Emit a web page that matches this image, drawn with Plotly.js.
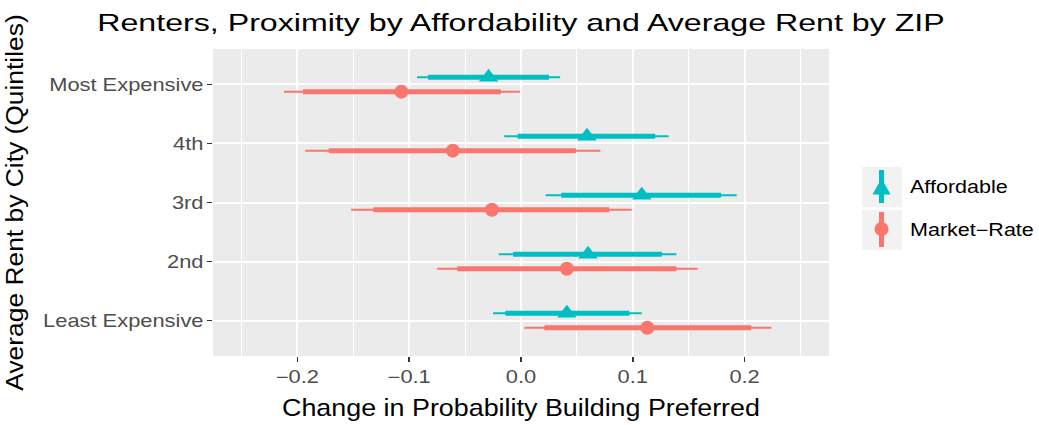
<!DOCTYPE html>
<html>
<head>
<meta charset="utf-8">
<script src="https://cdn.plot.ly/plotly-3.0.1.min.js"></script>
<style>html,body{margin:0;padding:0;background:#fff;}#chart{width:1039px;height:425px;}</style>
</head>
<body>
<div id="chart"></div>
<script>
// ---- data ----
var categories = ['Least Expensive', '2nd', '3rd', '4th', 'Most Expensive'];
var seriesNames = ['Affordable', 'Market\u2212Rate'];

var affEst  = [0.041, 0.060, 0.108, 0.059, -0.029];
var affLo95 = [-0.025, -0.020, 0.022, -0.015, -0.093];
var affHi95 = [0.108, 0.139, 0.193, 0.132, 0.035];
var affLo50 = [-0.014, -0.007, 0.036, -0.003, -0.083];
var affHi50 = [0.097, 0.126, 0.179, 0.120, 0.025];

var mktEst  = [0.113, 0.041, -0.026, -0.061, -0.107];
var mktLo95 = [0.003, -0.075, -0.152, -0.193, -0.212];
var mktHi95 = [0.224, 0.158, 0.099, 0.071, -0.001];
var mktLo50 = [0.021, -0.057, -0.132, -0.172, -0.195];
var mktHi50 = [0.206, 0.139, 0.079, 0.049, -0.018];

var xTickVals = [-0.2, -0.1, 0.0, 0.1, 0.2];

// ---- styling ----
var colAff = '#00BFC4', colMkt = '#F8766D';
var dodge = 0.122;
var FONT = 'Liberation Sans, Arial, Helvetica, sans-serif';

function segs(lo, hi, off) {
  var x = [], y = [];
  for (var i = 0; i < lo.length; i++) {
    x.push(lo[i], hi[i], null);
    y.push(i + 1 + off, i + 1 + off, null);
  }
  return {x: x, y: y};
}
function pos(n, off) { var y = []; for (var i = 0; i < n; i++) y.push(i + 1 + off); return y; }

var a95 = segs(affLo95, affHi95, dodge), a50 = segs(affLo50, affHi50, dodge);
var m95 = segs(mktLo95, mktHi95, -dodge), m50 = segs(mktLo50, mktHi50, -dodge);

var traces = [
  {type:'scatter', mode:'lines', x:m95.x, y:m95.y, line:{color:colMkt, width:2}, showlegend:false, hoverinfo:'skip'},
  {type:'scatter', mode:'lines', x:m50.x, y:m50.y, line:{color:colMkt, width:5}, showlegend:false, hoverinfo:'skip'},
  {type:'scatter', mode:'markers', name:seriesNames[1], x:mktEst, y:pos(5, -dodge), marker:{color:colMkt, size:14, symbol:'circle'}, showlegend:false},
  {type:'scatter', mode:'lines', x:a95.x, y:a95.y, line:{color:colAff, width:2}, showlegend:false, hoverinfo:'skip'},
  {type:'scatter', mode:'lines', x:a50.x, y:a50.y, line:{color:colAff, width:5}, showlegend:false, hoverinfo:'skip'},
  {type:'scatter', mode:'markers', name:seriesNames[0], x:affEst, y:pos(5, dodge), marker:{color:colAff, size:17, symbol:'triangle-up'}, showlegend:false}
];

// plot-area pixel helpers for legend keys
var L = 213, R = 829, T = 49, B = 356;
function px(x) { return (x - L) / (R - L); }
function py(y) { return (B - y) / (B - T); }

var shapes = [
  {type:'line', xref:'x', yref:'paper', x0:0, x1:0, y0:0, y1:1, layer:'between', line:{color:'#7F7F7F', width:2, dash:'6px,5px'}},
  {type:'rect', xref:'paper', yref:'paper', x0:px(862), x1:px(902), y0:py(207), y1:py(167), fillcolor:'#F2F2F2', line:{width:0}},
  {type:'rect', xref:'paper', yref:'paper', x0:px(862), x1:px(902), y0:py(250), y1:py(210), fillcolor:'#F2F2F2', line:{width:0}},
  {type:'line', xref:'paper', yref:'paper', x0:px(881.5), x1:px(881.5), y0:py(203), y1:py(170), line:{color:colAff, width:5}},
  {type:'path', xref:'paper', yref:'paper', path:'M '+px(881.5)+' '+py(178.5)+' L '+px(890.5)+' '+py(194.5)+' L '+px(872.5)+' '+py(194.5)+' Z', fillcolor:colAff, line:{width:0}},
  {type:'line', xref:'paper', yref:'paper', x0:px(881.5), x1:px(881.5), y0:py(247), y1:py(212), line:{color:colMkt, width:5}},
  {type:'circle', xref:'paper', yref:'paper', x0:px(874.5), x1:px(888.5), y0:py(236), y1:py(222), fillcolor:colMkt, line:{width:0}}
];

var annotations = [
  {xref:'paper', yref:'paper', x:px(908), y:py(187), xanchor:'left', yanchor:'middle', text:seriesNames[0], showarrow:false, font:{family:FONT, size:17.5, color:'#000'}},
  {xref:'paper', yref:'paper', x:px(908), y:py(230), xanchor:'left', yanchor:'middle', text:seriesNames[1], showarrow:false, font:{family:FONT, size:17.5, color:'#000'}}
];

var layout = {
  width:1039, height:425,
  margin:{l:L, r:1039 - R, t:T, b:425 - B, pad:0},
  paper_bgcolor:'#FFFFFF', plot_bgcolor:'#EBEBEB',
  font:{family:FONT, color:'#000'},
  title:{text:'Renters, Proximity by Affordability and Average Rent by ZIP', x:0.5, xref:'paper', xanchor:'center', y:1 - 23/425, yref:'container', yanchor:'middle', font:{family:FONT, size:24, color:'#000'}},
  xaxis:{
    range:[-0.2755, 0.2755], tickvals:xTickVals, tickformat:'.1f',
    showgrid:true, gridcolor:'#FFFFFF', gridwidth:2,
    minor:{dtick:0.05, tick0:0.05, showgrid:true, gridcolor:'#FFFFFF', gridwidth:1, ticks:''},
    zeroline:false, showline:false,
    ticks:'outside', ticklen:5, tickwidth:1.5, tickcolor:'#333333',
    tickfont:{family:FONT, size:17.5, color:'#4D4D4D'},
    title:{text:'Change in Probability Building Preferred', standoff:13, font:{family:FONT, size:24, color:'#000'}}
  },
  yaxis:{
    range:[0.4, 5.6], tickvals:[1,2,3,4,5], ticktext:categories,
    showgrid:true, gridcolor:'#FFFFFF', gridwidth:2,
    zeroline:false, showline:false,
    ticks:'outside', ticklen:5, tickwidth:1.5, tickcolor:'#333333',
    tickfont:{family:FONT, size:17.5, color:'#4D4D4D'},
    title:{text:'Average Rent by City (Quintiles)', standoff:44, font:{family:FONT, size:24, color:'#000'}}
  },
  shapes:shapes,
  annotations:annotations,
  showlegend:false
};

// widen glyphs horizontally (reference text is set wider than these fonts)
function stretch(sel, s, mode) {
  var nodes = document.querySelectorAll(sel);
  nodes.forEach(function (t) {
    var bb = t.getBBox();
    var anchor = mode || t.getAttribute('text-anchor') || 'start';
    var ax = anchor === 'middle' ? bb.x + bb.width / 2 : (anchor === 'end' ? bb.x + bb.width : bb.x);
    var old = t.getAttribute('transform') || '';
    t.setAttribute('transform', old + ' translate(' + ax + ',0) scale(' + s + ',1) translate(' + (-ax) + ',0)');
  });
}

Plotly.newPlot('chart', traces, layout, {displayModeBar:false, staticPlot:true}).then(function () {
  stretch('.gtitle', 1.34);
  stretch('.xtitle', 1.12);
  stretch('.ytitle', 1.10);
  stretch('.xtick text', 1.25);
  stretch('.ytick text', 1.25);
  stretch('.annotation-text', 1.23, 'start');
});
</script>
</body>
</html>
